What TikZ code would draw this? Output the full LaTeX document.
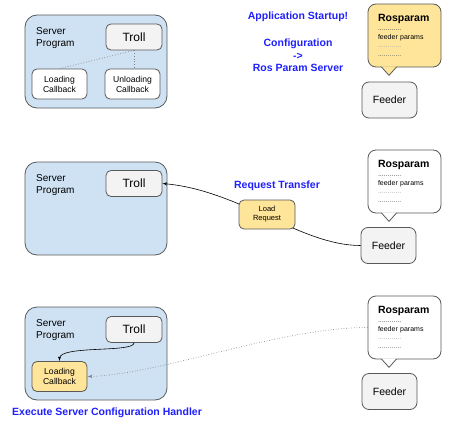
\documentclass[tikz,border=0pt]{standalone}
\usepackage{fontspec}
\setmainfont{Liberation Sans}
\usetikzlibrary{arrows,calc,positioning}
\definecolor{srvblue}{HTML}{CFE2F3}
\definecolor{notefill}{HTML}{FFE599}
\definecolor{boxgray}{HTML}{F3F3F3}
\definecolor{edgegray}{HTML}{595959}
\definecolor{headblue}{HTML}{1F1FFF}
\tikzset{
    server/.style = {draw=edgegray, fill=srvblue, rounded corners=12pt, line width=0.8pt,
        minimum width=142pt, minimum height=93pt},
    troll/.style = {draw=edgegray, fill=boxgray, rounded corners=5pt, line width=0.8pt,
        minimum width=56pt, minimum height=26pt, font=\fontsize{12}{14}\selectfont},
    callback/.style = {draw=edgegray, fill=white, rounded corners=5pt, line width=0.8pt,
        minimum width=55pt, minimum height=30pt, align=center,
        font=\fontsize{8.6}{10}\selectfont},
    feeder/.style = {draw=edgegray, fill=boxgray, rounded corners=7pt, line width=0.8pt,
        minimum width=55pt, minimum height=36pt, font=\fontsize{10.5}{12}\selectfont},
    note/.style = {draw=edgegray, rounded corners=8pt, line width=0.8pt,
        text width=53pt, inner xsep=10pt, inner ysep=0pt, minimum height=63pt,
        align=left, font=\fontsize{7}{8.7}\selectfont},
    srvtext/.style = {align=left, anchor=west, font=\fontsize{10}{12}\selectfont},
    headline/.style = {text=headblue, align=center, font=\bfseries\fontsize{10.5}{12.5}\selectfont},
    arrow/.style = {draw, -latex', line width=0.6pt},
    dotline/.style = {draw=gray, dotted, line width=0.7pt}
}
\newcommand{\paramnote}[3]{%
    \node[note, fill=#3] (#1) at (#2) {{\bfseries\fontsize{10.5}{8.7}\selectfont Rosparam}\\
        \textcolor{black!75}{............}\\
        feeder params\\
        \textcolor{black!35}{............}\\
        \textcolor{black!65}{............}};
    \fill[#3] ($(#1.south)+(-23,-1)$) -- ($(#1.south)+(-15.5,8)$) -- ($(#1.south)+(-8,-1)$) -- cycle;
    \draw[draw=edgegray, line width=0.8pt] ($(#1.south)+(-23,-0.4)$) -- ($(#1.south)+(-15.5,8)$) -- ($(#1.south)+(-8,-0.4)$);
}
\begin{document}
\begin{tikzpicture}[x=1pt, y=-1pt, >=latex']
    \useasboundingbox (0,0) rectangle (450,439);

    \node[server] (srv1) at (96,61.5) {};
    \node[srvtext] (prog1) at (32.7,38) {Server\\Program};
    \node[troll] (troll1) at (134,37) {Troll};
    \node[callback] (load1) at (59.5,84) {Loading\\Callback};
    \node[callback] (unload1) at (132.5,84) {Unloading\\Callback};
    \draw[dotline] (troll1.south) -- (load1.north);
    \draw[dotline] (troll1.south) -- (troll1.south |- unload1.north);
    \node[headline] (startup) at (298,17) {Application Startup!};
    \node[headline] (config) at (298,55.5) {Configuration\\->\\Ros Param Server};
    \paramnote{rp1}{404.5,35.5}{notefill}
    \node[feeder] (feed1) at (389.5,100) {Feeder};

    \node[server] (srv2) at (96,208.5) {};
    \node[srvtext] (prog2) at (32.7,185) {Server\\Program};
    \node[troll] (troll2) at (134,183.5) {Troll};
    \paramnote{rp2}{404.5,181.5}{white}
    \node[feeder] (feed2) at (388.5,245.5) {Feeder};
    \draw[arrow] (feed2.west) .. controls ($(feed2.west)+(-60,0)$) and ($(troll2.east)+(78,7)$) .. (troll2.east);
    \node[callback, fill=notefill, minimum width=56pt, minimum height=29pt,
        font=\fontsize{7.5}{9}\selectfont] (loadreq) at (267,214.5) {Load\\Request};
    \node[headline] (transfer) at (277,186) {Request Transfer};

    \node[server] (srv3) at (96,353.5) {};
    \node[srvtext] (prog3) at (32.7,330.5) {Server\\Program};
    \node[troll] (troll3) at (134,329.5) {Troll};
    \node[callback, fill=notefill] (load3) at (59.5,376.5) {Loading\\Callback};
    \paramnote{rp3}{404.5,327.5}{white}
    \node[feeder] (feed3) at (389.5,391.5) {Feeder};
    \draw[arrow] (troll3.south) .. controls ($(troll3.south)+(0,10)$) and ($(load3.north)+(0,-16)$) .. (load3.north);
    \draw[arrow, dotline] (rp3.west) .. controls ($(rp3.west)+(-88,0)$) and ($(load3.east)+(73,-2)$) .. (load3.east);
    \node[headline, anchor=west] (handler) at (8.7,413) {Execute Server Configuration Handler};
\end{tikzpicture}
\end{document}
